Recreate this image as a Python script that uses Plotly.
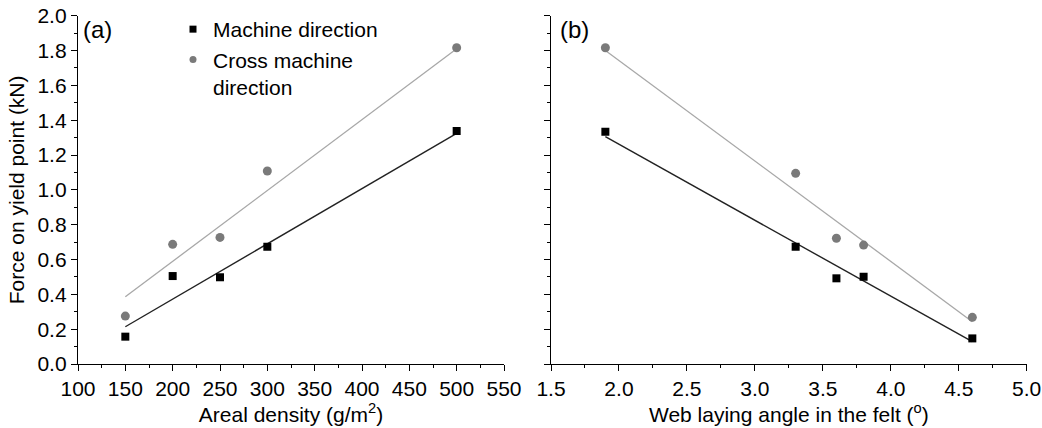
import plotly.graph_objects as go

# Panel (a): areal density
density = [150, 200, 250, 300, 500]
md_a = [0.157, 0.505, 0.498, 0.673, 1.338]
cmd_a = [0.275, 0.687, 0.727, 1.108, 1.816]
fit_x_a = [150, 500]
fit_md_a = [0.214, 1.324]
fit_cmd_a = [0.386, 1.81]

# Panel (b): web laying angle
angle = [1.9, 3.3, 3.6, 3.8, 4.6]
md_b = [1.334, 0.673, 0.492, 0.501, 0.147]
cmd_b = [1.816, 1.095, 0.722, 0.683, 0.268]
fit_x_b = [1.9, 4.6]
fit_md_b = [1.305, 0.128]
fit_cmd_b = [1.80, 0.243]

series_names = ["Machine direction", "Cross machine<br>direction"]

W, H = 1042, 428
FONT = "Liberation Sans, Arial, sans-serif"
MD_COL = "#000000"
CMD_COL = "#7a7a7a"
CMD_LINE = "#a8a8a8"
TICK_SIZE = 21
TITLE_SIZE = 21

fig = go.Figure()

# fit lines
fig.add_trace(go.Scatter(x=fit_x_a, y=fit_cmd_a, mode="lines", line=dict(color=CMD_LINE, width=1.3),
                         showlegend=False, xaxis="x", yaxis="y"))
fig.add_trace(go.Scatter(x=fit_x_a, y=fit_md_a, mode="lines", line=dict(color="#222222", width=1.4),
                         showlegend=False, xaxis="x", yaxis="y"))
fig.add_trace(go.Scatter(x=fit_x_b, y=fit_cmd_b, mode="lines", line=dict(color=CMD_LINE, width=1.3),
                         showlegend=False, xaxis="x2", yaxis="y2"))
fig.add_trace(go.Scatter(x=fit_x_b, y=fit_md_b, mode="lines", line=dict(color="#222222", width=1.4),
                         showlegend=False, xaxis="x2", yaxis="y2"))

# markers
fig.add_trace(go.Scatter(x=density, y=md_a, mode="markers", showlegend=False,
                         marker=dict(symbol="square", size=8, color=MD_COL),
                         xaxis="x", yaxis="y"))
fig.add_trace(go.Scatter(x=density, y=cmd_a, mode="markers", showlegend=False,
                         marker=dict(symbol="circle", size=9, color=CMD_COL),
                         xaxis="x", yaxis="y"))
fig.add_trace(go.Scatter(x=angle, y=md_b, mode="markers", showlegend=False,
                         marker=dict(symbol="square", size=8, color=MD_COL),
                         xaxis="x2", yaxis="y2"))
fig.add_trace(go.Scatter(x=angle, y=cmd_b, mode="markers", showlegend=False,
                         marker=dict(symbol="circle", size=9, color=CMD_COL),
                         xaxis="x2", yaxis="y2"))

# legend-only entries (smaller symbols, as in the reference legend)
fig.add_trace(go.Scatter(x=[None], y=[None], mode="markers", name=series_names[0],
                         marker=dict(symbol="square", size=7, color=MD_COL),
                         xaxis="x", yaxis="y"))
fig.add_trace(go.Scatter(x=[None], y=[None], mode="markers", name=series_names[1],
                         marker=dict(symbol="circle", size=7, color=CMD_COL),
                         xaxis="x", yaxis="y"))

axis_common = dict(
    showline=True, linecolor="#000000", linewidth=1.4, mirror=False,
    ticks="outside", ticklen=6, tickwidth=1.3, tickcolor="#000000",
    showgrid=False, zeroline=False,
    tickfont=dict(family=FONT, size=TICK_SIZE, color="#000000"),
    automargin=False,
)
minor_common = dict(ticks="outside", ticklen=3, tickwidth=1.2, tickcolor="#000000")

def xdom(a, b):
    return [a / W, b / W]

ydom = [(H - 364) / H, (H - 15.7) / H]

fig.update_layout(
    width=W, height=H,
    margin=dict(l=0, r=0, t=0, b=0),
    paper_bgcolor="white", plot_bgcolor="white",
    font=dict(family=FONT, size=TITLE_SIZE, color="#000000"),
    xaxis=dict(axis_common, domain=xdom(78, 504), range=[100, 550], dtick=50, tick0=100,
               minor=dict(minor_common, dtick=25),
               title=dict(text="Areal density (g/m<sup>2</sup>)", font=dict(family=FONT, size=TITLE_SIZE), standoff=1),
               anchor="y"),
    yaxis=dict(axis_common, domain=ydom, range=[0, 2.0], dtick=0.2, tickformat=".1f",
               minor=dict(minor_common, dtick=0.1),
               title=dict(text="Force on yield point (kN)", font=dict(family=FONT, size=TITLE_SIZE), standoff=7),
               anchor="x"),
    xaxis2=dict(axis_common, domain=xdom(551, 1026.7), range=[1.5, 5.0], dtick=0.5, tick0=1.5,
                tickformat=".1f",
                minor=dict(minor_common, dtick=0.25),
                title=dict(text="Web laying angle in the felt (<sup>o</sup>)", font=dict(family=FONT, size=TITLE_SIZE), standoff=1),
                anchor="y2"),
    yaxis2=dict(axis_common, domain=ydom, range=[0, 2.0], dtick=0.2, showticklabels=False,
                minor=dict(minor_common, dtick=0.1),
                anchor="x2"),
    legend=dict(x=173 / W, y=(H - 9) / H, xanchor="left", yanchor="top", valign="top",
                bgcolor="rgba(0,0,0,0)", font=dict(family=FONT, size=TITLE_SIZE, color="#000000"),
                itemsizing="trace", tracegroupgap=0),
    annotations=[
        dict(text="(a)", x=81 / W, y=(H - 30) / H, xref="paper", yref="paper",
             xanchor="left", yanchor="middle", showarrow=False,
             font=dict(family=FONT, size=24, color="#000000")),
        dict(text="(b)", x=558 / W, y=(H - 30) / H, xref="paper", yref="paper",
             xanchor="left", yanchor="middle", showarrow=False,
             font=dict(family=FONT, size=24, color="#000000")),
    ],
)

# remove the page's default body margin so the figure sits at the window's top-left corner
fig.write_html("out.html", config={"displayModeBar": False},
               post_script="document.body.style.margin='0';")
